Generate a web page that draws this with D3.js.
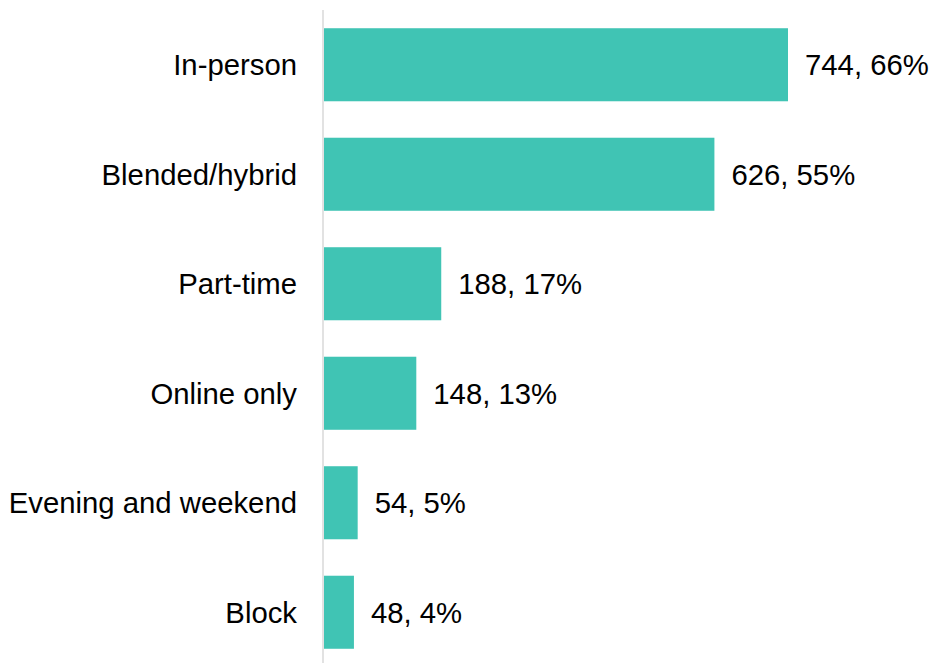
<!DOCTYPE html>
<html>
<head>
<meta charset="utf-8">
<script src="https://cdn.jsdelivr.net/npm/d3@7"></script>
<style>
  html, body { margin: 0; padding: 0; background: #fff; }
  svg { display: block; font-family: "Liberation Sans", Arial, sans-serif; }
</style>
</head>
<body>
<svg id="chart" width="930" height="663"></svg>
<script>
// Study mode categories with respondent counts and shares
const categories = ["In-person", "Blended/hybrid", "Part-time", "Online only", "Evening and weekend", "Block"];
const counts = [744, 626, 188, 148, 54, 48];
const shares = ["66%", "55%", "17%", "13%", "5%", "4%"];

const rows = categories.map((c, i) => ({ category: c, count: counts[i], share: shares[i] }));

const width = 930, height = 663;
const margin = { top: 10, right: 0, bottom: -4, left: 324 };
const fontSize = 29.3;

const svg = d3.select("#chart");

const x = d3.scaleLinear()
  .domain([0, 744])
  .range([margin.left, 788]);

const y = d3.scaleBand()
  .domain(categories)
  .range([margin.top, height - margin.bottom])
  .paddingInner(0.333)
  .paddingOuter(0.1665);

// Bars
svg.append("g")
  .selectAll("rect")
  .data(rows)
  .join("rect")
  .attr("x", x(0))
  .attr("y", d => y(d.category))
  .attr("width", d => x(d.count) - x(0))
  .attr("height", y.bandwidth())
  .attr("fill", "#40C4B4");

// Category axis
const yAxis = svg.append("g")
  .attr("transform", `translate(${margin.left - 1},0)`)
  .call(d3.axisLeft(y).tickSize(0).tickPadding(26));
yAxis.select(".domain")
  .attr("d", `M0,${margin.top}V${height}`)
  .attr("stroke", "#d9d9d9")
  .attr("stroke-width", 1.5);
yAxis.selectAll("text")
  .attr("font-size", fontSize)
  .attr("font-family", "Liberation Sans, Arial, sans-serif")
  .attr("fill", "#000")
  .attr("dy", "0.36em");

// Value labels
svg.append("g")
  .selectAll("text")
  .data(rows)
  .join("text")
  .attr("x", d => x(d.count) + 17)
  .attr("y", d => y(d.category) + y.bandwidth() / 2)
  .attr("dy", "0.36em")
  .attr("font-size", fontSize)
  .attr("fill", "#000")
  .text(d => `${d.count}, ${d.share}`);
</script>
</body>
</html>
